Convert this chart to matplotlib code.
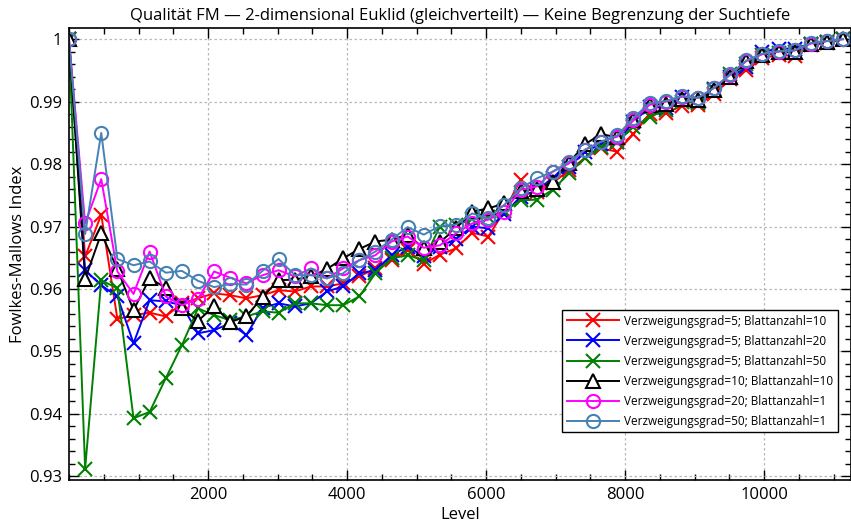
import matplotlib
matplotlib.use("Agg")
import matplotlib.pyplot as plt
from matplotlib.ticker import MultipleLocator

plt.rcParams['font.family'] = ['Open Sans', 'DejaVu Sans']

levels = [0, 232, 464, 696, 928, 1160, 1392, 1624, 1856, 2088, 2320, 2552,
          2784, 3016, 3248, 3480, 3712, 3944, 4176, 4408, 4640, 4872, 5104,
          5336, 5568, 5800, 6032, 6264, 6496, 6728, 6960, 7192, 7424, 7656,
          7888, 8120, 8352, 8584, 8816, 9048, 9280, 9512, 9744, 9976, 10208,
          10440, 10672, 10904, 11136]

fm_v5_b10 = [1.0, 0.9652, 0.9719, 0.9552, 0.9558, 0.9562, 0.9556, 0.9577, 0.9585,
             0.9593, 0.9590, 0.9585, 0.9590, 0.9598, 0.9596, 0.9604, 0.9604, 0.9609,
             0.9620, 0.9633, 0.9646, 0.9662, 0.9640, 0.9655, 0.9665, 0.9690, 0.9684,
             0.9725, 0.9775, 0.9755, 0.9770, 0.9790, 0.9810, 0.9825, 0.9820, 0.9848,
             0.9880, 0.9882, 0.9893, 0.9895, 0.9912, 0.9936, 0.9950, 0.9970, 0.9975,
             0.9973, 0.9990, 0.9994, 1.0]

fm_v5_b20 = [1.0, 0.9630, 0.9606, 0.9588, 0.9513, 0.9582, 0.9580, 0.9574, 0.9529,
             0.9534, 0.9545, 0.9526, 0.9570, 0.9577, 0.9572, 0.9577, 0.9596, 0.9604,
             0.9625, 0.9630, 0.9654, 0.9668, 0.9652, 0.9668, 0.9680, 0.9700, 0.9697,
             0.9720, 0.9748, 0.9758, 0.9778, 0.9795, 0.9820, 0.9832, 0.9836, 0.9867,
             0.9892, 0.9890, 0.9908, 0.9900, 0.9920, 0.9940, 0.9955, 0.9980, 0.9985,
             0.9985, 0.9993, 0.9996, 1.0]

fm_v5_b50 = [1.0, 0.9312, 0.9614, 0.9601, 0.9393, 0.9403, 0.9457, 0.9510, 0.9569,
             0.9558, 0.9550, 0.9556, 0.9564, 0.9562, 0.9577, 0.9577, 0.9574, 0.9574,
             0.9588, 0.9625, 0.9649, 0.9654, 0.9646, 0.9700, 0.9702, 0.9712, 0.9715,
             0.9725, 0.9742, 0.9743, 0.9759, 0.9785, 0.9810, 0.9828, 0.9835, 0.9860,
             0.9875, 0.9887, 0.9900, 0.9898, 0.9918, 0.9945, 0.9960, 0.9975, 0.9978,
             0.9980, 0.9993, 0.9996, 1.0]

fm_v10_b10 = [1.0, 0.9616, 0.9689, 0.9632, 0.9566, 0.9617, 0.9602, 0.9569, 0.9549,
              0.9572, 0.9547, 0.9556, 0.9587, 0.9614, 0.9615, 0.9620, 0.9632, 0.9649,
              0.9664, 0.9676, 0.9679, 0.9687, 0.9665, 0.9675, 0.9697, 0.9724, 0.9729,
              0.9737, 0.9757, 0.9760, 0.9772, 0.9802, 0.9832, 0.9848, 0.9843, 0.9870,
              0.9895, 0.9896, 0.9905, 0.9903, 0.9918, 0.9940, 0.9965, 0.9975, 0.9979,
              0.9980, 0.9992, 0.9996, 1.0]

fm_v20_b1 = [1.0, 0.9705, 0.9776, 0.9628, 0.9592, 0.9660, 0.9588, 0.9574, 0.9584,
             0.9628, 0.9618, 0.9609, 0.9622, 0.9630, 0.9620, 0.9633, 0.9617, 0.9633,
             0.9646, 0.9654, 0.9676, 0.9684, 0.9666, 0.9670, 0.9689, 0.9705, 0.9711,
             0.9724, 0.9759, 0.9764, 0.9788, 0.9801, 0.9823, 0.9836, 0.9844, 0.9870,
             0.9895, 0.9900, 0.9908, 0.9906, 0.9922, 0.9943, 0.9965, 0.9976, 0.9980,
             0.9982, 0.9993, 0.9997, 1.0]

fm_v50_b1 = [1.0, 0.9688, 0.9850, 0.9648, 0.9638, 0.9644, 0.9626, 0.9629, 0.9613,
             0.9603, 0.9608, 0.9607, 0.9629, 0.9648, 0.9622, 0.9622, 0.9617, 0.9625,
             0.9646, 0.9660, 0.9679, 0.9699, 0.9687, 0.9701, 0.9703, 0.9721, 0.9713,
             0.9735, 0.9761, 0.9777, 0.9788, 0.9804, 0.9823, 0.9836, 0.9846, 0.9874,
             0.9898, 0.9901, 0.9909, 0.9906, 0.9922, 0.9944, 0.9966, 0.9977, 0.9981,
             0.9982, 0.9994, 0.9997, 1.0]

series = [
    ("Verzweigungsgrad=5; Blattanzahl=10", fm_v5_b10, "#ff0000", "x"),
    ("Verzweigungsgrad=5; Blattanzahl=20", fm_v5_b20, "#0000ff", "x"),
    ("Verzweigungsgrad=5; Blattanzahl=50", fm_v5_b50, "#008000", "x"),
    ("Verzweigungsgrad=10; Blattanzahl=10", fm_v10_b10, "#000000", "^"),
    ("Verzweigungsgrad=20; Blattanzahl=1", fm_v20_b1, "#ff00ff", "o"),
    ("Verzweigungsgrad=50; Blattanzahl=1", fm_v50_b1, "#4682b4", "o"),
]

fig = plt.figure(figsize=(8.51, 5.26), dpi=100)
ax = fig.add_axes([69 / 851, 46 / 526, 782 / 851, 452 / 526])

for label, vals, color, marker in series:
    if marker == "x":
        kw = dict(markersize=10, markeredgewidth=1.5)
    elif marker == "^":
        kw = dict(markersize=9.5, markeredgewidth=1.5, markerfacecolor="white")
    else:
        kw = dict(markersize=9.5, markeredgewidth=1.5, markerfacecolor="none")
    ax.plot(levels, vals, color=color, marker=marker, linewidth=1.4,
            label=label, **kw)

ax.set_xlim(0, 11250)
ax.set_ylim(0.9294, 1.0018)
ax.xaxis.set_minor_locator(MultipleLocator(500))
ax.yaxis.set_minor_locator(MultipleLocator(0.002))
ax.set_xticks([2000, 4000, 6000, 8000, 10000])
ax.set_yticks([0.93, 0.94, 0.95, 0.96, 0.97, 0.98, 0.99, 1.0])
ax.set_yticklabels(["0.93", "0.94", "0.95", "0.96", "0.97", "0.98", "0.99", "1"])

ax.tick_params(which="both", direction="in", top=True, right=True,
               labelsize=12, width=1)
ax.tick_params(which="major", length=7, pad=5)
ax.tick_params(which="minor", length=4)
ax.grid(True, which="major", linestyle=(0, (2, 2)), color="#b8b8b8", linewidth=0.9)
for s in ax.spines.values():
    s.set_linewidth(1.2)

ax.set_title("Qualität FM — 2-dimensional Euklid (gleichverteilt) — Keine Begrenzung der Suchtiefe",
             fontsize=12, pad=6)
ax.set_xlabel("Level", fontsize=12, labelpad=3)
ax.set_ylabel("Fowlkes-Mallows Index", fontsize=12, labelpad=2)

leg = ax.legend(loc="lower right", bbox_to_anchor=(0.983, 0.106), borderaxespad=0,
                fontsize=8.5, handlelength=4.4, handletextpad=0.5,
                fancybox=False, framealpha=1, edgecolor="black",
                borderpad=0.35, labelspacing=0.6)
leg.get_frame().set_linewidth(1.0)

fig.savefig("out.png", dpi=100)
